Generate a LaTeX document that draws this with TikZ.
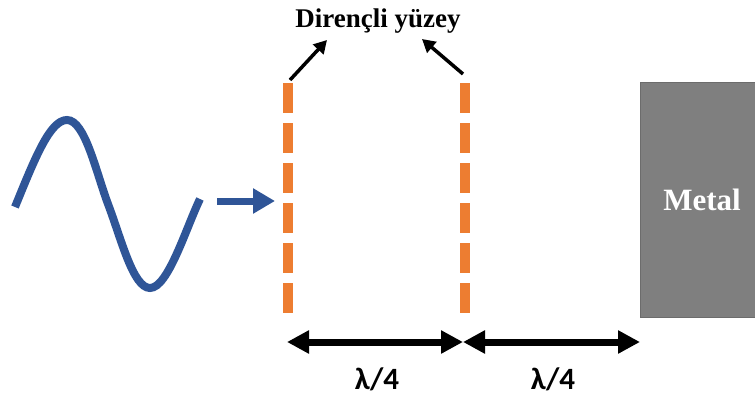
\documentclass[tikz,border=0pt]{standalone}
\usepackage{fontspec}
\setmainfont{Liberation Serif}
\newfontfamily\calibri{Carlito}
\usetikzlibrary{arrows.meta}
\definecolor{wblue}{HTML}{2F5597}
\definecolor{sorange}{HTML}{ED7D31}
\definecolor{mgray}{HTML}{7F7F7F}
\tikzset{
  surf/.style={sorange, line width=10pt, dash pattern=on 30pt off 10pt},
  ptr/.style={line width=3.5pt, -{Triangle[length=13pt,width=14pt]}},
  dim/.style={line width=7pt, {Triangle[length=22pt,width=22pt]}-{Triangle[length=22pt,width=22pt]}},
  lbl/.style={font=\calibri\bfseries\fontsize{31}{33}\selectfont, inner sep=0pt},
}
\begin{document}
\begin{tikzpicture}[x=1pt,y=-1pt]
\useasboundingbox (0,0) rectangle (755,402);
% wave
\draw[wblue, line width=8pt] (15,207) .. controls (35,158) and (50,120) .. (67,120)
  .. controls (85,120) and (96,172) .. (108,204)
  .. controls (121,238) and (133,288) .. (150,288)
  .. controls (168,288) and (186,228) .. (200,199);
\coordinate (wa) at (217,201);
\coordinate (wb) at (275,201);
\draw[wblue, line width=7pt, -{Triangle[length=22pt,width=24pt]}] (wa) -- (wb);
% surfaces
\coordinate (s1t) at (288,83); \coordinate (s1b) at (288,313);
\coordinate (s2t) at (465,83); \coordinate (s2b) at (465,313);
\draw[surf] (s1t) -- (s1b);
\draw[surf] (s2t) -- (s2b);
% label
\node[font=\bfseries\fontsize{27}{30}\selectfont, inner sep=0pt] (t) at (378,21) {Dirençli yüzey};
\coordinate (a1s) at (290,80); \coordinate (a1e) at (327,40);
\coordinate (a2s) at (463,74); \coordinate (a2e) at (422,39);
\draw[ptr] (a1s) -- (a1e);
\draw[ptr] (a2s) -- (a2e);
% metal
\node[fill=mgray, draw=mgray!85!black, line width=0.8pt, minimum width=116pt, minimum height=235pt, inner sep=0pt,
  text=white, font=\bfseries\fontsize{31}{33}\selectfont] (m) at (698,199.5) {\hspace*{8pt}Metal};
% dimensions
\coordinate (d1) at (287,342); \coordinate (d2) at (463,342); \coordinate (d3) at (640,342);
\draw[dim] (d1) -- (d2);
\draw[dim] (d2) -- (d3);
\node[lbl] (l1) at (377,379) {λ/4};
\node[lbl] (l2) at (553,379) {λ/4};
\end{tikzpicture}
\end{document}
